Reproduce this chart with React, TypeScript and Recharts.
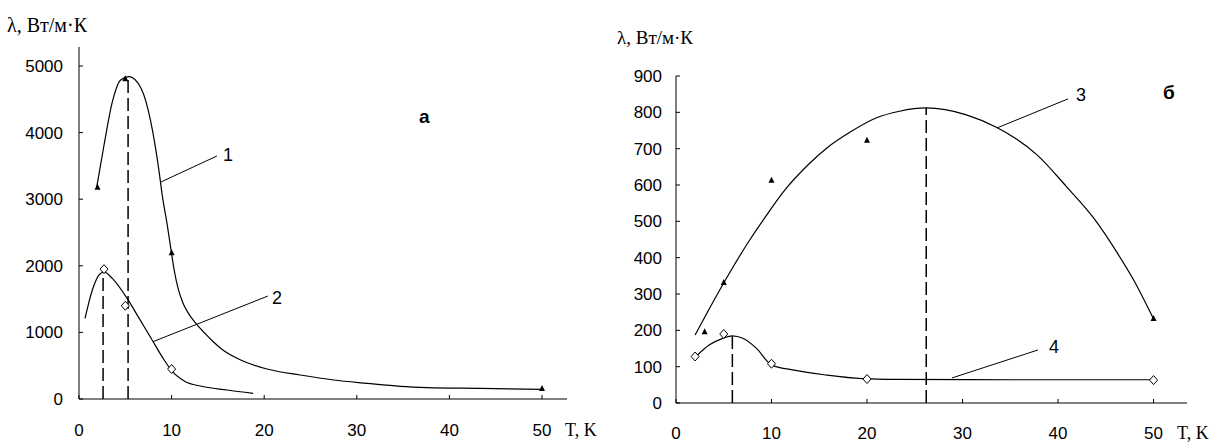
import React from 'react';
import {
  ComposedChart,
  Line,
  Scatter,
  XAxis,
  YAxis,
  ReferenceLine,
} from 'recharts';

// --- chart "а": curves (T, K -> λ, W/m·K)
const curve1 = [
  { T: 1.9, v: 3170 }, { T: 2.7, v: 3810 }, { T: 3.6, v: 4460 }, { T: 4.5, v: 4790 },
  { T: 5.4, v: 4840 }, { T: 6.7, v: 4665 }, { T: 7.75, v: 4165 }, { T: 8.65, v: 3415 },
  { T: 9.0, v: 3050 }, { T: 9.5, v: 2640 }, { T: 10, v: 2180 }, { T: 10.3, v: 1920 },
  { T: 10.7, v: 1660 }, { T: 11.2, v: 1450 }, { T: 11.8, v: 1290 }, { T: 12.6, v: 1140 },
  { T: 13.5, v: 1000 }, { T: 14.5, v: 860 }, { T: 15.5, v: 740 }, { T: 17.4, v: 590 },
  { T: 20.3, v: 450 }, { T: 23.9, v: 360 }, { T: 27.5, v: 285 }, { T: 31.1, v: 235 },
  { T: 34.7, v: 190 }, { T: 37.6, v: 172 }, { T: 43.4, v: 160 }, { T: 50, v: 145 },
];
const curve2 = [
  { T: 0.65, v: 1210 }, { T: 1.45, v: 1640 }, { T: 2.15, v: 1860 }, { T: 2.7, v: 1910 },
  { T: 3.6, v: 1810 }, { T: 5.2, v: 1510 }, { T: 6.5, v: 1210 }, { T: 7.9, v: 885 },
  { T: 9.2, v: 585 }, { T: 10.1, v: 410 }, { T: 11.5, v: 260 }, { T: 13.1, v: 195 },
  { T: 16, v: 135 }, { T: 18.8, v: 85 },
];
const points1 = [
  { T: 2, v: 3170 }, { T: 5, v: 4800 }, { T: 10, v: 2190 }, { T: 50, v: 150 },
];
const points2 = [
  { T: 2.7, v: 1950 }, { T: 5, v: 1400 }, { T: 10, v: 450 },
];

// --- chart "б"
const curve3 = [
  { T: 2, v: 187 }, { T: 3.5, v: 260 }, { T: 5.65, v: 360 }, { T: 7.75, v: 450 },
  { T: 9.3, v: 510 }, { T: 11.2, v: 580 }, { T: 14, v: 660 }, { T: 15.8, v: 702 },
  { T: 18.2, v: 745 }, { T: 21, v: 785 }, { T: 23.4, v: 803 }, { T: 26.2, v: 812 },
  { T: 30.4, v: 793 }, { T: 33.6, v: 758 }, { T: 37.8, v: 683 }, { T: 40.9, v: 595 },
  { T: 43.7, v: 510 }, { T: 46.2, v: 413 }, { T: 47.9, v: 339 }, { T: 50, v: 231 },
];
const curve4 = [
  { T: 2.1, v: 128 }, { T: 3.5, v: 160 }, { T: 4.9, v: 178 }, { T: 5.9, v: 185 },
  { T: 7, v: 178 }, { T: 8.4, v: 151 }, { T: 10, v: 105 }, { T: 12.2, v: 91 },
  { T: 15.7, v: 77 }, { T: 19.5, v: 67 }, { T: 23, v: 65 }, { T: 35, v: 64 },
  { T: 50, v: 64 },
];
const points3 = [
  { T: 3, v: 195 }, { T: 5, v: 330 }, { T: 10, v: 612 }, { T: 20, v: 722 }, { T: 50, v: 231 },
];
const points4 = [
  { T: 2, v: 128 }, { T: 5, v: 190 }, { T: 10, v: 108 }, { T: 20, v: 66 }, { T: 50, v: 63 },
];

const xTicks = [0, 10, 20, 30, 40, 50];
const yTicksA = [0, 1000, 2000, 3000, 4000, 5000];
const yTicksB = [0, 100, 200, 300, 400, 500, 600, 700, 800, 900];

const tickFont = '"Liberation Sans", Arial, sans-serif';
const serif = '"Liberation Serif", "Times New Roman", serif';
const sans = '"Liberation Sans", Arial, sans-serif';

const Triangle = (props: any) => {
  const { cx, cy } = props;
  return <polygon points={`${cx},${cy - 4} ${cx - 3},${cy + 2} ${cx + 3},${cy + 2}`} fill="#000" />;
};

const Diamond = (props: any) => {
  const { cx, cy } = props;
  return (
    <polygon
      points={`${cx},${cy - 4.5} ${cx + 4},${cy} ${cx},${cy + 4.5} ${cx - 4},${cy}`}
      fill="#fff"
      stroke="#000"
      strokeWidth={1}
    />
  );
};

const tickStyle = { fill: '#000', fontSize: 17, fontFamily: tickFont };
const dash = { stroke: '#000', strokeWidth: 1.5, strokeDasharray: '13 5' };

const Label = ({ x, y, text, font = sans, size = 18, weight = 400 }: any) => (
  <div
    style={{
      position: 'absolute',
      left: x,
      top: y,
      transform: 'translateY(-50%)',
      fontFamily: font,
      fontSize: size,
      fontWeight: weight,
      lineHeight: 1,
      whiteSpace: 'nowrap',
      color: '#000',
    }}
  >
    {text}
  </div>
);

export default function App() {
  return (
    <div
      style={{
        position: 'absolute',
        left: 0,
        top: 0,
        width: 1221,
        height: 446,
        background: '#fff',
        overflow: 'hidden',
      }}
    >
      {/* chart а */}
      <div style={{ position: 'absolute', left: 0, top: 0 }}>
        <ComposedChart width={610} height={446} margin={{ top: 47, right: 43, bottom: 0, left: 0 }}>
          <XAxis
            type="number"
            dataKey="T"
            domain={[0, 52.7]}
            ticks={xTicks}
            interval={0}
            height={47}
            stroke="#000"
            tickSize={-4}
            tickMargin={29}
            tick={tickStyle}
            allowDataOverflow
          />
          <YAxis
            type="number"
            dataKey="v"
            domain={[0, 5285]}
            ticks={yTicksA}
            interval={0}
            width={79}
            stroke="#000"
            tickSize={-4}
            tickMargin={20}
            tick={tickStyle}
            allowDataOverflow
          />
          <ReferenceLine segment={[{ x: 2.6, y: 0 }, { x: 2.6, y: 1900 }]} {...dash} />
          <ReferenceLine segment={[{ x: 5.3, y: 0 }, { x: 5.3, y: 4840 }]} {...dash} />
          <ReferenceLine segment={[{ x: 8.85, y: 3258 }, { x: 14.9, y: 3649 }]} stroke="#000" />
          <ReferenceLine segment={[{ x: 7.98, y: 860 }, { x: 20.4, y: 1546 }]} stroke="#000" />
          <Line data={curve1} dataKey="v" type="monotone" stroke="#000" strokeWidth={1.2} dot={false} isAnimationActive={false} />
          <Line data={curve2} dataKey="v" type="monotone" stroke="#000" strokeWidth={1.2} dot={false} isAnimationActive={false} />
          <Scatter data={points1} dataKey="v" shape={<Triangle />} isAnimationActive={false} />
          <Scatter data={points2} dataKey="v" shape={<Diamond />} isAnimationActive={false} />
        </ComposedChart>
      </div>

      {/* chart б */}
      <div style={{ position: 'absolute', left: 610, top: 0 }}>
        <ComposedChart width={611} height={446} margin={{ top: 76, right: 34, bottom: 0, left: 0 }}>
          <XAxis
            type="number"
            dataKey="T"
            domain={[0, 53.5]}
            ticks={xTicks}
            interval={0}
            height={43}
            stroke="#000"
            tickSize={-4}
            tickMargin={28}
            tick={tickStyle}
            allowDataOverflow
          />
          <YAxis
            type="number"
            dataKey="v"
            domain={[0, 900]}
            ticks={yTicksB}
            interval={0}
            width={66}
            stroke="#000"
            tickSize={-4}
            tickMargin={18}
            tick={tickStyle}
            allowDataOverflow
          />
          <ReferenceLine segment={[{ x: 5.9, y: 0 }, { x: 5.9, y: 185 }]} {...dash} />
          <ReferenceLine segment={[{ x: 26.2, y: 0 }, { x: 26.2, y: 812 }]} {...dash} />
          <ReferenceLine segment={[{ x: 33.6, y: 757 }, { x: 41.05, y: 837 }]} stroke="#000" />
          <ReferenceLine segment={[{ x: 28.9, y: 69 }, { x: 37.9, y: 146 }]} stroke="#000" />
          <Line data={curve3} dataKey="v" type="monotone" stroke="#000" strokeWidth={1.2} dot={false} isAnimationActive={false} />
          <Line data={curve4} dataKey="v" type="monotone" stroke="#000" strokeWidth={1.2} dot={false} isAnimationActive={false} />
          <Scatter data={points3} dataKey="v" shape={<Triangle />} isAnimationActive={false} />
          <Scatter data={points4} dataKey="v" shape={<Diamond />} isAnimationActive={false} />
        </ComposedChart>
      </div>

      <Label x={7} y={25} text="λ, Вт/м·К" font={serif} size={20} />
      <Label x={617} y={37} text="λ, Вт/м·К" font={serif} size={19} />
      <Label x={565} y={430} text="T, K" font={serif} size={18} />
      <Label x={1177} y={433} text="T, K" font={serif} size={18} />
      <Label x={419} y={116} text="а" font={sans} size={19} weight={700} />
      <Label x={1163} y={92} text="б" font={sans} size={19} weight={700} />
      <Label x={223} y={155} text="1" size={18} />
      <Label x={272} y={298} text="2" size={18} />
      <Label x={1076} y={95} text="3" size={18} />
      <Label x={1049} y={347} text="4" size={18} />
    </div>
  );
}
